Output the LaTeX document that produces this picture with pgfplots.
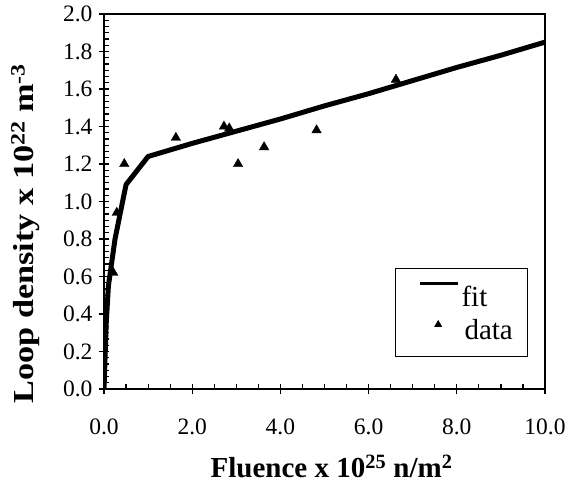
\documentclass[border=0pt]{standalone}
\usepackage{graphicx}
\usepackage{pgfplots}
\pgfplotsset{compat=1.18}
\usepackage{fontspec}
\setmainfont{Liberation Serif}
\begin{document}
\begin{tikzpicture}
\begin{axis}[
  scale only axis, width=441pt, height=375pt,
  xmin=0, xmax=10, ymin=0, ymax=2,
  xtick={0,2,4,6,8,10}, ytick={0,0.2,...,2.0},
  minor x tick num=3, minor y tick num=5,
  xtick pos=bottom, ytick pos=left,
  tick align=inside,
  major tick length=10pt, minor tick length=5pt,
  major x tick style={yshift=-5pt, line width=1.2pt, black},
  major y tick style={xshift=-5pt, line width=1.2pt, black},
  minor tick style={line width=1.2pt, black},
  axis line style={line width=1.5pt},
  /pgf/number format/assume math mode=true,
  /pgf/number format/.cd, fixed, fixed zerofill, precision=1, /pgfplots/.cd,
  ticklabel style={font=\fontsize{23.5}{27}\selectfont},
  xticklabel style={yshift=-26pt},
  yticklabel style={xshift=-8pt},
  xlabel={\textbf{Fluence x 10\textsuperscript{25} n/m\textsuperscript{2}}},
  ylabel={\scalebox{1.18}[1]{\textbf{Loop density x 10\textsuperscript{22} m\textsuperscript{-3}}}},
  label style={font=\fontsize{29}{33}\selectfont},
  xlabel style={at={(axis description cs:0.516,-0.235)}, anchor=base},
  ylabel style={at={(axis description cs:-0.178,0.415)}, anchor=center},
  legend style={at={(0.962,0.086)}, anchor=south east, draw=black, line width=0.8pt,
    font=\fontsize{29}{33}\selectfont, inner xsep=13pt, inner ysep=13.5pt,
    row sep=7pt},
  legend cell align=left,
]
\addplot[black, line width=5pt, line join=round,
  legend image code/.code={\path[draw=none,fill=none] (-12pt,0pt) -- (0pt,0pt);\draw[black,line width=3.5pt] (0pt,14pt)--(37.6pt,14pt);}]
  table {
x y
0 0
0.05 0.35
0.1 0.55
0.25 0.8
0.5 1.09
1 1.24
2 1.31
3 1.375
4 1.44
5 1.51
6 1.575
7 1.645
8 1.715
9 1.78
10 1.85
};
\addlegendentry{fit}
\addplot[only marks, mark=triangle*, mark size=5.5pt, black,
  legend image code/.code={\path[draw=none,fill=none] (-12pt,-6pt) -- (0pt,-6pt);\draw[black] plot[mark=triangle*, mark size=3.8pt] coordinates {(18pt,5.5pt)};}]
  table {
x y
0.21 0.62
0.29 0.94
0.46 1.20
1.63 1.34
2.72 1.40
2.84 1.39
3.04 1.20
3.63 1.29
4.82 1.38
6.62 1.65
};
\addlegendentry{\hspace{3pt}data}
\end{axis}
\path ([xshift=-104pt,yshift=-95pt]current axis.south west) rectangle ([xshift=24pt,yshift=14pt]current axis.north east);
\end{tikzpicture}
\end{document}
